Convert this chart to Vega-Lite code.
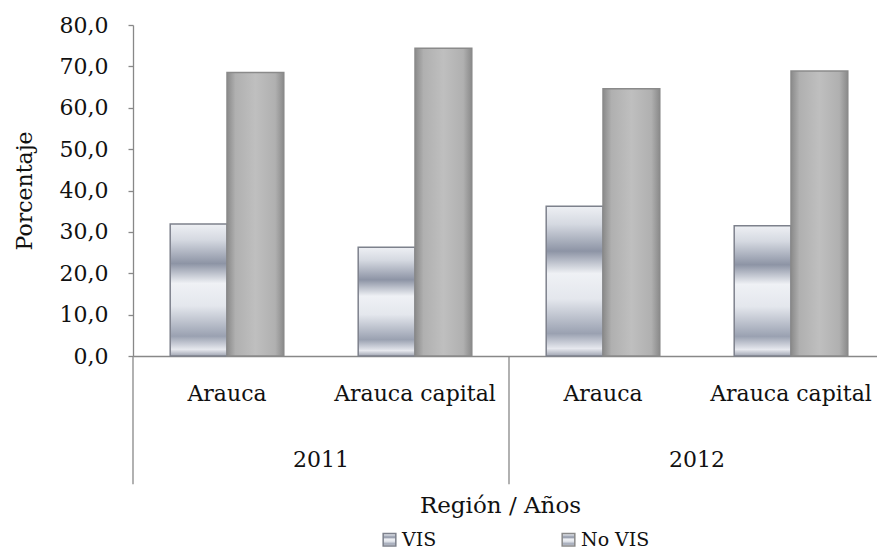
{
  "$schema": "https://vega.github.io/schema/vega-lite/v6.json",
  "padding": {"left": 13, "top": 14, "right": 0, "bottom": 0},
  "background": "white",
  "width": 752,
  "height": 331,
  "data": {
    "values": [
      {"Año": "2011", "Región": "Arauca", "Cat": "2011|Arauca", "Serie": "VIS", "Porcentaje": 31.9},
      {"Año": "2011", "Región": "Arauca", "Cat": "2011|Arauca", "Serie": "No VIS", "Porcentaje": 68.5},
      {"Año": "2011", "Región": "Arauca capital", "Cat": "2011|Arauca capital", "Serie": "VIS", "Porcentaje": 26.3},
      {"Año": "2011", "Región": "Arauca capital", "Cat": "2011|Arauca capital", "Serie": "No VIS", "Porcentaje": 74.4},
      {"Año": "2012", "Región": "Arauca", "Cat": "2012|Arauca", "Serie": "VIS", "Porcentaje": 36.2},
      {"Año": "2012", "Región": "Arauca", "Cat": "2012|Arauca", "Serie": "No VIS", "Porcentaje": 64.6},
      {"Año": "2012", "Región": "Arauca capital", "Cat": "2012|Arauca capital", "Serie": "VIS", "Porcentaje": 31.5},
      {"Año": "2012", "Región": "Arauca capital", "Cat": "2012|Arauca capital", "Serie": "No VIS", "Porcentaje": 68.9}
    ]
  },
  "encoding": {
    "y": {
      "field": "Porcentaje", "type": "quantitative",
      "scale": {"domain": [0, 80]},
      "axis": {"title": "Porcentaje", "values": [0, 10, 20, 30, 40, 50, 60, 70, 80],
               "labelExpr": "replace(format(datum.value, '.1f'), '.', ',')",
               "grid": false, "tickSize": 5, "tickColor": "#888888", "domainColor": "#888888", "domainWidth": 1.3, "tickWidth": 1.3,
               "labelFont": "DejaVu Serif", "labelFontSize": 22, "labelColor": "#111", "labelPadding": 20,
               "titleFont": "DejaVu Serif", "titleFontSize": 22, "titleFontWeight": "normal", "titleColor": "#111", "titlePadding": 23}
    }
  },
  "layer": [
    {
      "encoding": {
        "x": {
          "field": "Cat", "type": "nominal", "sort": ["2011|Arauca", "2011|Arauca capital", "2012|Arauca", "2012|Arauca capital"],
          "scale": {"paddingInner": 0, "paddingOuter": 0},
          "axis": {"orient": "bottom", "title": null, "labelAngle": 0, "ticks": false, "domainColor": "#888888", "domainWidth": 1.3,
                   "labelExpr": "split(datum.label, '|')[1]",
                   "labelFont": "DejaVu Serif", "labelFontSize": 22, "labelColor": "#111", "labelPadding": 27}
        },
        "xOffset": {"field": "Serie", "type": "nominal", "scale": {"domain": ["VIS", "No VIS"], "paddingOuter": 0.655, "paddingInner": 0}},
        "stroke": {"field": "Serie", "type": "nominal", "scale": {"domain": ["VIS", "No VIS"], "range": ["#7d818c", "#8a8a8a"]},
          "legend": {"title": null, "orient": "none", "legendX": 247, "legendY": 505, "direction": "horizontal", "symbolType": "square", "symbolSize": 160,
            "labelFont": "DejaVu Serif", "labelFontSize": 19, "labelColor": "#111", "columnPadding": 122, "labelOffset": 3,
            "encode": {"symbols": {
              "update": {"fill": {"signal": "datum.value == 'VIS' ? '#8f939e' : '#c6c6c6'"}, "stroke": {"value": "#7a7a7a"}, "strokeWidth": {"value": 1.5}, "opacity": {"value": 1}}}}}
        }
      },
      "layer": [
        {
          "transform": [{"filter": "datum.Serie == 'VIS'"}],
          "mark": {"type": "bar", "strokeWidth": 1.5},
          "encoding": {
            "fill": {"value": {"gradient": "linear", "x1": 0, "y1": 0, "x2": 0, "y2": 1, "stops": [
              {"offset": 0, "color": "#eef0f4"}, {"offset": 0.12, "color": "#d5d9e1"}, {"offset": 0.3, "color": "#8d94a5"},
              {"offset": 0.45, "color": "#eff1f5"}, {"offset": 0.62, "color": "#e4e7ed"}, {"offset": 0.85, "color": "#9aa1b1"},
              {"offset": 0.95, "color": "#e6e8ee"}, {"offset": 1, "color": "#a0a5b2"}]}}
          }
        },
        {
          "transform": [{"filter": "datum.Serie == 'No VIS'"}],
          "mark": {"type": "bar", "strokeWidth": 1.5},
          "encoding": {
            "fill": {"value": {"gradient": "linear", "x1": 0, "y1": 0, "x2": 1, "y2": 0, "stops": [
              {"offset": 0, "color": "#8a8a8a"}, {"offset": 0.15, "color": "#b0b0b0"}, {"offset": 0.5, "color": "#bfbfbf"},
              {"offset": 0.85, "color": "#b0b0b0"}, {"offset": 1, "color": "#8a8a8a"}]}}
          }
        }
      ]
    },
    {
      "transform": [{"filter": "datum.Región == 'Arauca' && datum.Serie == 'VIS'"}],
      "mark": {"type": "rule", "color": "#888888", "strokeWidth": 1.3},
      "encoding": {
        "x": {"field": "Año", "type": "ordinal", "bandPosition": 0,
              "scale": {"type": "band", "paddingInner": 0, "paddingOuter": 0},
              "axis": {"orient": "bottom", "domain": false, "ticks": false, "labelAngle": 0,
                       "labelFont": "DejaVu Serif", "labelFontSize": 22, "labelColor": "#111", "labelPadding": 93,
                       "title": "Región / Años", "titleFont": "DejaVu Serif", "titleFontSize": 23, "titleFontWeight": "normal",
                       "titleColor": "#111", "titlePadding": 24, "titleX": 367}},
        "y": {"datum": 0},
        "y2": {"datum": -31}
      }
    }
  ],
  "resolve": {"scale": {"x": "independent"}, "axis": {"x": "independent"}},
  "config": {"view": {"stroke": null}, "font": "DejaVu Serif"}
}
